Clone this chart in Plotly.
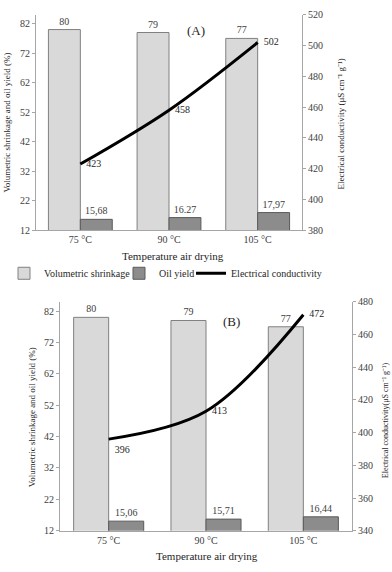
import plotly.graph_objects as go

categories = ["75 °C", "90 °C", "105 °C"]

# Panel A
shrink_a = [80, 79, 77]
oil_a = [15.68, 16.27, 17.97]
oil_a_labels = ["15,68", "16.27", "17,97"]
ec_a = [423, 458, 502]

# Panel B
shrink_b = [80, 79, 77]
oil_b = [15.06, 15.71, 16.44]
oil_b_labels = ["15,06", "15,71", "16,44"]
ec_b = [396, 413, 472]

left_ticks = [12, 22, 32, 42, 52, 62, 72, 82]

W, H = 392, 572
SERIF = "Liberation Serif, Times New Roman, serif"
LIGHT = "#d9d9d9"
LIGHT_LINE = "#808080"
DARK = "#8c8c8c"
DARK_LINE = "#5a5a5a"
TXT = "#404040"


def px_x(v):
    return v / W


def px_y(v):
    return 1 - v / H


fig = go.Figure()

# ---- Panel A ----
fig.add_trace(go.Bar(x=categories, y=shrink_a, name="Volumetric shrinkage",
                     marker=dict(color=LIGHT, line=dict(color=LIGHT_LINE, width=1)),
                     text=[str(v) for v in shrink_a], textposition="outside",
                     textfont=dict(size=10, color=TXT, family=SERIF),
                     xaxis="x", yaxis="y", legend="legend"))
fig.add_trace(go.Bar(x=categories, y=oil_a, name="Oil yield",
                     marker=dict(color=DARK, line=dict(color=DARK_LINE, width=1)),
                     text=oil_a_labels, textposition="outside",
                     textfont=dict(size=10, color=TXT, family=SERIF),
                     xaxis="x", yaxis="y", legend="legend2"))
fig.add_trace(go.Scatter(x=categories, y=ec_a, name="Electrical conductivity",
                         mode="lines+markers+text", line=dict(color="black", width=3, shape="spline"),
                         marker=dict(size=8, color="rgba(0,0,0,0)"),
                         text=[str(v) for v in ec_a],
                         textposition="middle right",
                         textfont=dict(size=10, color="#262626", family=SERIF),
                         xaxis="x", yaxis="y2", legend="legend3"))

# ---- Panel B ----
fig.add_trace(go.Bar(x=categories, y=shrink_b, name="Volumetric shrinkage",
                     marker=dict(color=LIGHT, line=dict(color=LIGHT_LINE, width=1)),
                     text=[str(v) for v in shrink_b], textposition="outside",
                     textfont=dict(size=10, color=TXT, family=SERIF),
                     xaxis="x2", yaxis="y3", showlegend=False))
fig.add_trace(go.Bar(x=categories, y=oil_b, name="Oil yield",
                     marker=dict(color=DARK, line=dict(color=DARK_LINE, width=1)),
                     text=oil_b_labels, textposition="outside",
                     textfont=dict(size=10, color=TXT, family=SERIF),
                     xaxis="x2", yaxis="y3", showlegend=False))
fig.add_trace(go.Scatter(x=categories, y=ec_b, name="Electrical conductivity",
                         mode="lines+markers+text", line=dict(color="black", width=3, shape="spline"),
                         marker=dict(size=8, color="rgba(0,0,0,0)"),
                         text=[str(v) for v in ec_b],
                         textposition=["bottom right", "middle right", "middle right"],
                         textfont=dict(size=10, color="#262626", family=SERIF),
                         xaxis="x2", yaxis="y4", showlegend=False))

axis_common = dict(showgrid=False, zeroline=False, linecolor="#a6a6a6", linewidth=1,
                   tickfont=dict(size=10, color=TXT, family=SERIF))

leg_common = dict(orientation="h", xanchor="left", y=px_y(273), yanchor="middle",
                  font=dict(size=10, color="#262626", family=SERIF),
                  itemwidth=30, bgcolor="rgba(0,0,0,0)")

fig.update_layout(
    width=W, height=H,
    margin=dict(l=0, r=0, t=0, b=0),
    paper_bgcolor="white", plot_bgcolor="white",
    barmode="group", bargap=0.28, bargroupgap=0,
    font=dict(family=SERIF, color=TXT),
    xaxis=dict(domain=[px_x(36), px_x(302)], anchor="y", showline=True, ticks="",
               **axis_common),
    yaxis=dict(domain=[px_y(229), px_y(9)], anchor="x", range=[12, 85],
               tickvals=left_ticks, showline=True, ticks="outside", ticklen=3,
               tickcolor="#a6a6a6", **axis_common),
    yaxis2=dict(overlaying="y", side="right", anchor="x", range=[380, 520], dtick=20,
                showline=True, ticks="outside", ticklen=3, tickcolor="#a6a6a6",
                **axis_common),
    xaxis2=dict(domain=[px_x(60), px_x(352)], anchor="y3", showline=True, ticks="",
                **axis_common),
    yaxis3=dict(domain=[px_y(536), px_y(302)], anchor="x2", range=[12, 85],
                tickvals=left_ticks, showline=True, ticks="outside", ticklen=3,
                tickcolor="#a6a6a6", **axis_common),
    yaxis4=dict(overlaying="y3", side="right", anchor="x2", range=[340, 480], dtick=20,
                showline=True, ticks="outside", ticklen=3, tickcolor="#a6a6a6",
                **axis_common),
    legend=dict(x=px_x(4), **leg_common),
    legend2=dict(x=px_x(119), **leg_common),
    legend3=dict(x=px_x(191), **leg_common),
    showlegend=True,
)

ann_font = dict(family=SERIF, color="#262626")
annotations = [
    # Panel A
    dict(text="(A)", x=px_x(195.5), y=px_y(25), font=dict(size=13, **ann_font)),
    dict(text="Temperature air drying", x=px_x(173), y=px_y(255), font=dict(size=11, **ann_font)),
    dict(text="Volumetric shrinkage and oil yield (%)", x=px_x(7), y=px_y(119), textangle=-90,
         font=dict(size=9, **ann_font)),
    dict(text="Electrical conductivity (μS cm⁻¹ g⁻¹)", x=px_x(341), y=px_y(121), textangle=-90,
         font=dict(size=9, **ann_font)),
    # Panel B
    dict(text="(B)", x=px_x(231), y=px_y(322), font=dict(size=13, **ann_font)),
    dict(text="Temperature air drying", x=px_x(207), y=px_y(562), font=dict(size=11, **ann_font)),
    dict(text="Volumetric shrinkage and oil yield (%)", x=px_x(32), y=px_y(420), textangle=-90,
         font=dict(size=9, **ann_font)),
    dict(text="Electrical conductivity(μS cm⁻¹ g⁻¹)", x=px_x(385), y=px_y(423), textangle=-90,
         font=dict(size=8, **ann_font)),
]
for a in annotations:
    a.update(xref="paper", yref="paper", showarrow=False, xanchor="center", yanchor="middle")
fig.update_layout(annotations=annotations)
fig.update_traces(cliponaxis=False, constraintext="none", selector=dict(type="bar"))

fig.write_html("out.html")
